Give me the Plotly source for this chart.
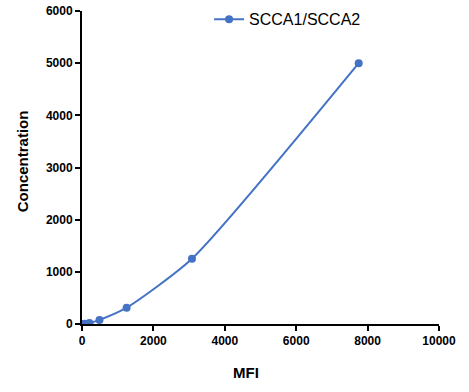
import plotly.graph_objects as go

mfi = [30, 80, 210, 490, 1250, 3080, 7750]
conc = [0, 4.88, 19.53, 78.13, 312.5, 1250, 5000]
series_name = "SCCA1/SCCA2"
x_ticks = [0, 2000, 4000, 6000, 8000, 10000]
y_ticks = [0, 1000, 2000, 3000, 4000, 5000, 6000]

blue = "#4472C4"
font_family = "Liberation Sans, Arial, sans-serif"

fig = go.Figure()
fig.add_trace(go.Scatter(
    x=mfi, y=conc, mode="lines+markers", name=series_name,
    line=dict(color=blue, width=2, shape="spline", smoothing=0.6),
    marker=dict(color=blue, size=8),
))

axis_common = dict(
    showline=True, linecolor="black", linewidth=2,
    ticks="outside", ticklen=5, tickwidth=2, tickcolor="black",
    showgrid=False, zeroline=False, automargin=False,
    tickfont=dict(family=font_family, size=12, color="black", weight="bold"),
)

fig.update_layout(
    width=469, height=392,
    margin=dict(l=82, r=30, t=11, b=68, autoexpand=False),
    paper_bgcolor="white", plot_bgcolor="white",
    font=dict(family=font_family, color="black"),
    xaxis=dict(range=[0, 10000], tickvals=x_ticks, ticktext=[str(v) for v in x_ticks], **axis_common),
    yaxis=dict(range=[0, 6000], tickvals=y_ticks, ticktext=[str(v) for v in y_ticks], **axis_common),
    showlegend=True,
    legend=dict(x=0.356, y=1.028, xanchor="left", yanchor="top", bgcolor="rgba(0,0,0,0)",
                font=dict(size=16, family=font_family, color="black")),
    annotations=[
        dict(text="<b>MFI</b>", xref="paper", yref="paper", x=0.46, y=0, yshift=-48,
             xanchor="center", yanchor="middle", showarrow=False,
             font=dict(size=15, family=font_family, color="black")),
        dict(text="<b>Concentration</b>", xref="paper", yref="paper", x=0, xshift=-60, y=0.52,
             xanchor="center", yanchor="middle", showarrow=False, textangle=-90,
             font=dict(size=15, family=font_family, color="black")),
    ],
)

fig.write_html("out.html", config={"displayModeBar": False},
               post_script="document.body.style.margin='0';document.body.style.overflow='hidden';")
